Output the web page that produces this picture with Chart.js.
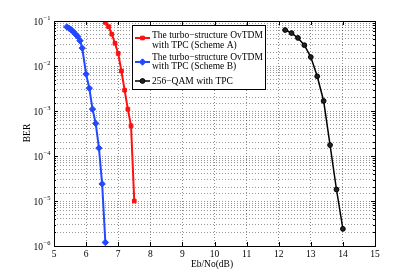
<!DOCTYPE html>
<html>
<head>
<meta charset="utf-8">
<script src="https://cdn.jsdelivr.net/npm/chart.js@4"></script>
<style>
  html, body { margin: 0; padding: 0; background: #fff; }
  canvas { display: block; }
</style>
</head>
<body>
<canvas id="berChart" width="415" height="277"></canvas>
<script>
// Data
const schemeA_x = [6.6, 6.7, 6.8, 6.9, 7.0, 7.1, 7.2, 7.3, 7.4, 7.5];
const schemeA_ber = [0.093, 0.075, 0.051, 0.032, 0.019, 0.0077, 0.0029, 0.0011, 0.00047, 0.00001];

const schemeB_x = [5.4, 5.47, 5.54, 5.61, 5.68, 5.74, 5.81, 5.88, 6.0, 6.1, 6.2, 6.3, 6.4, 6.5, 6.6];
const schemeB_ber = [0.074, 0.069, 0.063, 0.057, 0.05, 0.045, 0.0365, 0.025, 0.0066, 0.0032, 0.0011, 0.00053, 0.00015, 0.000024, 0.0000012];

const qam_x = [12.2, 12.4, 12.6, 12.8, 13.0, 13.2, 13.4, 13.6, 13.8, 14.0];
const qam_ber = [0.063, 0.054, 0.042, 0.029, 0.0158, 0.0059, 0.00167, 0.000175, 0.000018, 0.0000024];

const labels = [
  ["The turbo\u2212structure OvTDM", "with TPC (Scheme A)"],
  ["The turbo\u2212structure OvTDM", "with TPC (Scheme B)"],
  ["256\u2212QAM with TPC"]
];
const yExponents = [-1, -2, -3, -4, -5, -6];
const xTicks = [5, 6, 7, 8, 9, 10, 11, 12, 13, 14, 15];

const SERIF = "'Liberation Serif', 'Times New Roman', serif";

function toPoints(xs, ys) {
  return xs.map((x, i) => ({ x: x, y: ys[i] }));
}

// MATLAB-like frame, inward ticks, 10^n labels, axis titles and legend
const matlabPlugin = {
  id: "matlab",
  afterDraw(chart) {
    const ctx = chart.ctx;
    const area = chart.chartArea;
    const xs = chart.scales.x;
    const ys = chart.scales.y;
    ctx.save();

    // inward ticks
    ctx.strokeStyle = "#000";
    ctx.lineWidth = 1;
    ctx.beginPath();
    xTicks.forEach(v => {
      const px = Math.round(xs.getPixelForValue(v)) + 0.5;
      ctx.moveTo(px, area.bottom); ctx.lineTo(px, area.bottom - 4);
      ctx.moveTo(px, area.top); ctx.lineTo(px, area.top + 4);
    });
    ys.ticks.forEach(t => {
      const m = Math.log10(t.value);
      const major = Math.abs(m - Math.round(m)) < 1e-6;
      const len = major ? 4 : 2;
      const py = Math.round(ys.getPixelForValue(t.value)) + 0.5;
      ctx.moveTo(area.left, py); ctx.lineTo(area.left + len, py);
      ctx.moveTo(area.right, py); ctx.lineTo(area.right - len, py);
    });
    ctx.stroke();

    // frame
    ctx.strokeRect(Math.round(area.left) + 0.5, Math.round(area.top) + 0.5,
      Math.round(area.right - area.left), Math.round(area.bottom - area.top));

    // y tick labels 10^n
    ctx.fillStyle = "#000";
    ctx.textBaseline = "middle";
    yExponents.forEach(e => {
      const py = ys.getPixelForValue(Math.pow(10, e));
      ctx.font = "9.5px " + SERIF;
      ctx.textAlign = "right";
      ctx.fillText("10", 43, py + 1);
      ctx.font = "6.5px " + SERIF;
      ctx.textAlign = "left";
      ctx.fillText("\u2212" + Math.abs(e), 43.5, py - 3);
    });

    // axis titles
    ctx.font = "9.5px " + SERIF;
    ctx.textAlign = "center";
    ctx.fillText("Eb/No(dB)", 212, 264);
    ctx.save();
    ctx.translate(27, 133);
    ctx.rotate(-Math.PI / 2);
    ctx.fillText("BER", 0, 0);
    ctx.restore();

    // legend
    const box = { x: 132.5, y: 25.5, w: 133, h: 64 };
    ctx.fillStyle = "#fff";
    ctx.fillRect(box.x, box.y, box.w, box.h);
    ctx.strokeRect(box.x, box.y, box.w, box.h);
    const rows = [
      { lineY: 38, textY: [35.5, 45] },
      { lineY: 62, textY: [57, 66.5] },
      { lineY: 81, textY: [81] }
    ];
    chart.data.datasets.forEach((ds, i) => {
      const r = rows[i];
      ctx.strokeStyle = ds.borderColor;
      ctx.lineWidth = ds.borderWidth;
      ctx.beginPath();
      ctx.moveTo(135, r.lineY); ctx.lineTo(150, r.lineY);
      ctx.stroke();
      ctx.fillStyle = ds.backgroundColor;
      ctx.lineWidth = 1;
      Chart.helpers.drawPoint(ctx, {
        pointStyle: ds.pointStyle, radius: ds.pointRadius, rotation: 0,
        borderWidth: 1
      }, 142.5, r.lineY);
      ctx.fillStyle = "#000";
      ctx.font = "9.5px " + SERIF;
      ctx.textAlign = "left";
      ds.label.forEach((line, k) => ctx.fillText(line, 152, r.textY[k]));
    });

    ctx.restore();
  }
};

const chart = new Chart(document.getElementById("berChart"), {
  type: "line",
  data: {
    datasets: [
      {
        label: labels[0],
        data: toPoints(schemeA_x, schemeA_ber),
        borderColor: "#ff1010",
        backgroundColor: "#ff1010",
        borderWidth: 2,
        pointStyle: "rect",
        pointRadius: 2.6,
        pointBorderWidth: 1
      },
      {
        label: labels[1],
        data: toPoints(schemeB_x, schemeB_ber),
        borderColor: "#2249ff",
        backgroundColor: "#2249ff",
        borderWidth: 2,
        pointStyle: "rectRot",
        pointRadius: 3.2,
        pointBorderWidth: 1
      },
      {
        label: labels[2],
        data: toPoints(qam_x, qam_ber),
        borderColor: "#000",
        backgroundColor: "#222",
        borderWidth: 1.5,
        pointStyle: "circle",
        pointRadius: 2.4,
        pointBorderWidth: 1
      }
    ]
  },
  options: {
    responsive: false,
    animation: false,
    devicePixelRatio: 1,
    layout: { padding: { top: 21, right: 40, left: 0, bottom: 0 } },
    plugins: {
      legend: { display: false },
      tooltip: { enabled: false }
    },
    scales: {
      x: {
        type: "linear",
        min: 5,
        max: 15,
        afterFit: s => { s.height = 31; },
        afterBuildTicks: s => { s.ticks = xTicks.map(v => ({ value: v })); },
        border: { display: false, dash: [1, 2] },
        grid: { color: "rgba(0,0,0,0.45)", lineWidth: 1, drawTicks: false },
        ticks: {
          padding: 3,
          color: "#000",
          font: { family: SERIF, size: 9.5 },
          maxRotation: 0
        }
      },
      y: {
        type: "logarithmic",
        min: 1e-6,
        max: 1e-1,
        afterFit: s => { s.width = 54; },
        border: { display: false, dash: [1, 2] },
        grid: { color: "rgba(0,0,0,0.4)", lineWidth: 1, drawTicks: false },
        ticks: { display: false }
      }
    }
  },
  plugins: [matlabPlugin]
});
</script>
</body>
</html>
